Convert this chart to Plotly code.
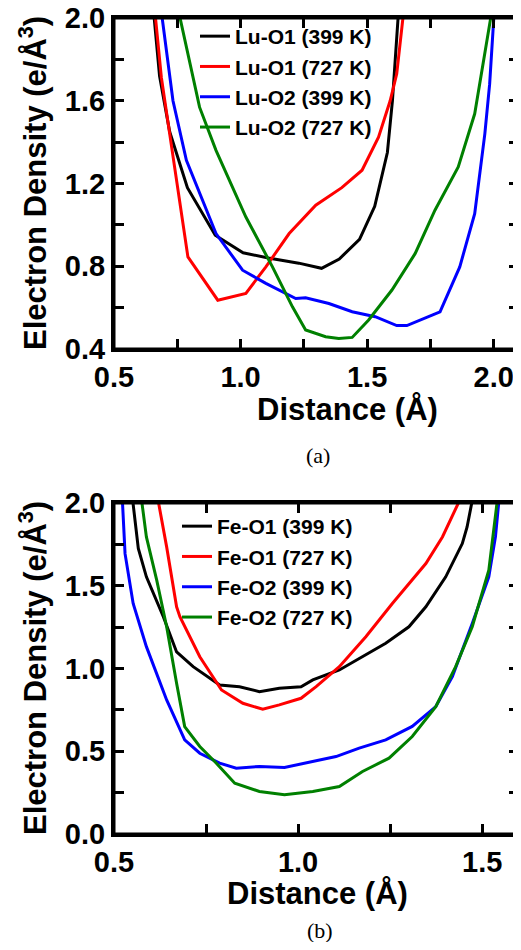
import plotly.graph_objects as go
from plotly.subplots import make_subplots

# ---- Panel (a): Lu-O bonds ----
lu_o1_399_x = [0.655, 0.68, 0.72, 0.79, 0.90, 1.01, 1.11, 1.23, 1.32, 1.39, 1.47, 1.53, 1.58, 1.60, 1.625]
lu_o1_399_y = [2.05, 1.72, 1.45, 1.18, 0.95, 0.865, 0.84, 0.815, 0.79, 0.835, 0.93, 1.09, 1.35, 1.60, 2.05]

lu_o1_727_x = [0.66, 0.687, 0.72, 0.759, 0.792, 0.91, 1.021, 1.10, 1.192, 1.297, 1.40, 1.48, 1.545, 1.591, 1.617, 1.646]
lu_o1_727_y = [2.05, 1.714, 1.44, 1.118, 0.845, 0.636, 0.669, 0.797, 0.958, 1.095, 1.18, 1.264, 1.424, 1.60, 1.73, 2.05]

lu_o2_399_x = [0.685, 0.733, 0.786, 0.903, 1.008, 1.10, 1.218, 1.257, 1.349, 1.441, 1.532, 1.617, 1.657, 1.788, 1.866, 1.925, 1.965, 1.984, 2.003]
lu_o2_399_y = [2.05, 1.60, 1.312, 0.958, 0.781, 0.717, 0.644, 0.648, 0.62, 0.58, 0.556, 0.513, 0.513, 0.58, 0.797, 1.054, 1.44, 1.68, 2.05]

lu_o2_727_x = [0.752, 0.838, 0.903, 1.021, 1.126, 1.205, 1.257, 1.336, 1.388, 1.441, 1.506, 1.598, 1.69, 1.768, 1.86, 1.925, 1.995]
lu_o2_727_y = [2.05, 1.569, 1.36, 1.038, 0.797, 0.604, 0.492, 0.459, 0.451, 0.456, 0.54, 0.685, 0.862, 1.071, 1.28, 1.537, 2.05]

# ---- Panel (b): Fe-O bonds ----
fe_o1_399_x = [0.549, 0.561, 0.566, 0.588, 0.634, 0.67, 0.715, 0.787, 0.841, 0.895, 0.949, 1.008, 1.04, 1.112, 1.175, 1.238, 1.301, 1.347, 1.401, 1.446, 1.459, 1.476]
fe_o1_399_y = [2.05, 1.835, 1.725, 1.554, 1.313, 1.10, 1.011, 0.90, 0.89, 0.86, 0.88, 0.89, 0.931, 0.991, 1.071, 1.152, 1.252, 1.373, 1.554, 1.755, 1.855, 2.05]

fe_o1_727_x = [0.617, 0.643, 0.67, 0.679, 0.733, 0.792, 0.85, 0.904, 0.949, 1.008, 1.049, 1.112, 1.184, 1.256, 1.347, 1.392, 1.446]
fe_o1_727_y = [2.05, 1.735, 1.373, 1.313, 1.071, 0.87, 0.79, 0.754, 0.78, 0.82, 0.89, 1.011, 1.192, 1.393, 1.634, 1.795, 2.05]

fe_o2_399_x = [0.522, 0.53, 0.552, 0.588, 0.643, 0.692, 0.733, 0.787, 0.832, 0.895, 0.963, 1.022, 1.103, 1.166, 1.238, 1.31, 1.374, 1.419, 1.473, 1.518, 1.536, 1.547]
fe_o2_399_y = [2.05, 1.694, 1.393, 1.132, 0.81, 0.569, 0.488, 0.428, 0.398, 0.408, 0.402, 0.428, 0.468, 0.519, 0.569, 0.65, 0.77, 0.951, 1.272, 1.554, 1.795, 2.05]

fe_o2_727_x = [0.573, 0.588, 0.616, 0.643, 0.67, 0.692, 0.733, 0.778, 0.828, 0.895, 0.963, 1.04, 1.112, 1.175, 1.247, 1.31, 1.374, 1.428, 1.473, 1.518, 1.543]
fe_o2_727_y = [2.05, 1.795, 1.534, 1.252, 0.911, 0.649, 0.529, 0.428, 0.307, 0.257, 0.237, 0.257, 0.287, 0.378, 0.458, 0.589, 0.77, 1.011, 1.252, 1.594, 2.05]

# ---- tick values ----
top_x_ticks = [0.5, 1.0, 1.5, 2.0]
top_x_minor = [0.75, 1.25, 1.75]
top_y_ticks = [0.4, 0.8, 1.2, 1.6, 2.0]
top_y_minor = [0.6, 1.0, 1.4, 1.8]
bot_x_ticks = [0.5, 1.0, 1.5]
bot_x_minor = [0.75, 1.25]
bot_y_ticks = [0.0, 0.5, 1.0, 1.5, 2.0]
bot_y_minor = [0.25, 0.75, 1.25, 1.75]

top_series = [
    ("Lu-O1 (399 K)", lu_o1_399_x, lu_o1_399_y, "#000000"),
    ("Lu-O1 (727 K)", lu_o1_727_x, lu_o1_727_y, "#ff0000"),
    ("Lu-O2 (399 K)", lu_o2_399_x, lu_o2_399_y, "#0000ff"),
    ("Lu-O2 (727 K)", lu_o2_727_x, lu_o2_727_y, "#008000"),
]
bot_series = [
    ("Fe-O1 (399 K)", fe_o1_399_x, fe_o1_399_y, "#000000"),
    ("Fe-O1 (727 K)", fe_o1_727_x, fe_o1_727_y, "#ff0000"),
    ("Fe-O2 (399 K)", fe_o2_399_x, fe_o2_399_y, "#0000ff"),
    ("Fe-O2 (727 K)", fe_o2_727_x, fe_o2_727_y, "#008000"),
]

# page body has an 8px margin on every side; keep the figure inside the window
OFF = 8
WIN_W, WIN_H = 521, 950
W, H = WIN_W - OFF, WIN_H - 2 * OFF

def px(x):
    return (x - OFF) / W

def py(y):
    return 1 - (y - OFF) / H

def b(s):
    return "<b>" + s + "</b>"

FONT = "Liberation Sans"

fig = make_subplots(rows=2, cols=1)
for name, xs, ys, c in top_series:
    fig.add_trace(go.Scatter(x=xs, y=ys, mode="lines", name=b(name),
                             line=dict(color=c, width=3), legend="legend"), row=1, col=1)
for name, xs, ys, c in bot_series:
    fig.add_trace(go.Scatter(x=xs, y=ys, mode="lines", name=b(name),
                             line=dict(color=c, width=3), legend="legend2"), row=2, col=1)

common = dict(showline=True, linewidth=3, linecolor="black", mirror="ticks",
              ticks="inside", ticklen=10, tickwidth=3, tickcolor="black",
              showgrid=False, zeroline=False, automargin=False,
              ticklabeloverflow="allow",
              tickfont=dict(family=FONT, size=29, color="black"))
fig.update_xaxes(**common)
fig.update_yaxes(**common)

def tk(ticks, minor_vals, rng, dom):
    return dict(domain=dom, range=rng,
                tickmode="array", tickvals=ticks, ticktext=[b("%.1f" % v) for v in ticks],
                minor=dict(tickmode="array", tickvals=minor_vals, ticks="inside",
                           ticklen=10, tickwidth=3, tickcolor="black", showgrid=False))

xdom = [px(114), px(519)]
fig.update_xaxes(**tk(top_x_ticks, top_x_minor, [0.5, 2.1], xdom), row=1, col=1)
fig.update_yaxes(**tk(top_y_ticks, top_y_minor, [0.4, 2.0], [py(349), py(18)]), row=1, col=1)
fig.update_xaxes(**tk(bot_x_ticks, bot_x_minor, [0.5, 1.6], xdom), row=2, col=1)
fig.update_yaxes(**tk(bot_y_ticks, bot_y_minor, [0.0, 2.0], [py(834), py(503)]), row=2, col=1)

# frame drawn as subplot-domain rectangles (matches the axis box)
for xr, yr in (("x domain", "y domain"), ("x2 domain", "y2 domain")):
    fig.add_shape(type="rect", xref=xr, yref=yr, x0=0, x1=1, y0=0, y1=1,
                  line=dict(color="black", width=3), layer="above")

fig.update_layout(
    template="none",
    width=W, height=H,
    margin=dict(l=0, r=0, t=0, b=0, pad=0),
    paper_bgcolor="white", plot_bgcolor="white",
    legend=dict(x=px(195), y=py(16), xanchor="left", yanchor="top",
                bgcolor="rgba(0,0,0,0)", borderwidth=0,
                font=dict(family=FONT, size=21, color="black"),
                tracegroupgap=0),
    legend2=dict(x=px(177), y=py(506), xanchor="left", yanchor="top",
                 bgcolor="rgba(0,0,0,0)", borderwidth=0,
                 font=dict(family=FONT, size=21, color="black"),
                 tracegroupgap=0),
    showlegend=True,
)

title_font = dict(family=FONT, size=31, color="black")
cap_font = dict(family="Liberation Serif", size=22, color="black")
ann = [
    dict(text=b("Distance (Å)"), x=px(347), y=py(410), font=title_font, textangle=0),
    dict(text=b("Electron Density (e/Å<sup>3</sup>)"), x=px(33), y=py(183), font=title_font, textangle=-90),
    dict(text="(a)", x=px(318), y=py(455), font=cap_font, textangle=0),
    dict(text=b("Distance (Å)"), x=px(317), y=py(893), font=title_font, textangle=0),
    dict(text=b("Electron Density (e/Å<sup>3</sup>)"), x=px(33), y=py(668), font=title_font, textangle=-90),
    dict(text="(b)", x=px(320), y=py(930), font=cap_font, textangle=0),
]
for a in ann:
    fig.add_annotation(xref="paper", yref="paper", xanchor="center", yanchor="middle",
                       showarrow=False, **a)

fig.write_html("out.html")
